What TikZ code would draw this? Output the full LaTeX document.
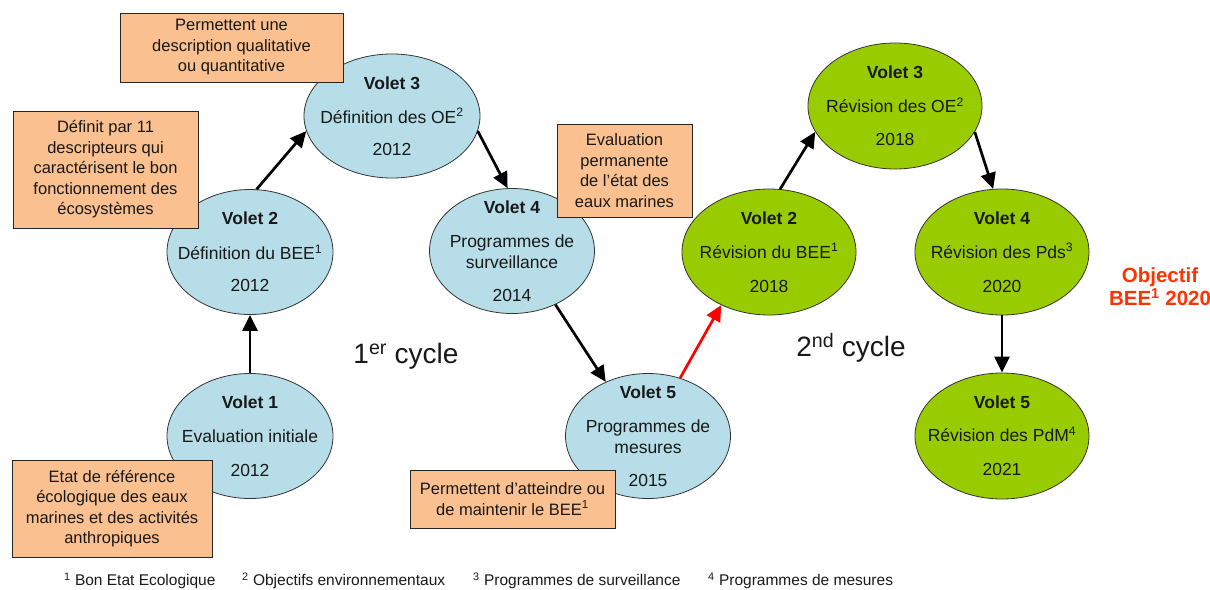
\documentclass[tikz,border=0pt]{standalone}
\usepackage{fontspec}
\setmainfont{Liberation Sans}
\usetikzlibrary{arrows.meta,shapes.geometric}
\definecolor{bluefill}{HTML}{B7DEE8}
\definecolor{greenfill}{HTML}{99CC00}
\definecolor{boxfill}{HTML}{FAC090}
\definecolor{objred}{HTML}{FF3300}
\begin{document}
\begin{tikzpicture}[x=1pt,y=-1pt,
  ell/.style={ellipse, draw=black!80, line width=0.8pt, inner sep=0pt},
  blueell/.style={ell, fill=bluefill, minimum width=166pt, minimum height=125pt},
  greenell/.style={ell, fill=greenfill, minimum width=174pt, minimum height=126pt},
  etxt/.style={align=center, font=\fontsize{17.5}{21}\selectfont, text=black!90, inner sep=0pt},
  note/.style={draw=black!85, line width=0.8pt, fill=boxfill, align=center,
    font=\fontsize{16.5}{20.5}\selectfont, text=black!90, inner sep=0pt},
  arr/.style={line width=2.7pt, -{Triangle[length=16pt,width=15pt]}},
  redarr/.style={arr, draw=red, fill=red},
  foot/.style={anchor=west, font=\fontsize{15.5}{18}\selectfont, text=black!90, inner sep=0pt}]
\useasboundingbox (0,0) rectangle (1210,589);

% first cycle ellipses
\node[blueell] (v1) at (250,436) {};
\node[blueell] (v2) at (250,252) {};
\node[blueell, minimum width=176pt, minimum height=124pt] (v3) at (392,116) {};
\node[blueell, minimum width=165pt] (v4) at (512,251) {};
\node[blueell, minimum width=165pt] (v5) at (648,436) {};

\node[etxt] (v1t) at (v1.center) {\textbf{Volet 1}\\[13pt]Evaluation initiale\\[13pt]2012};
\node[etxt] (v2t) at (v2.center) {\textbf{Volet 2}\\[14pt]Définition du BEE\textsuperscript{1}\\[11pt]2012};
\node[etxt] (v3t) at (v3.center) {\textbf{Volet 3}\\[13pt]Définition des OE\textsuperscript{2}\\[11pt]2012};
\node[etxt] (v4t) at (v4.center) {\textbf{Volet 4}\\[13pt]Programmes de\\surveillance\\[12pt]2014};
\node[etxt] (v5t) at (v5.center) {\textbf{Volet 5}\\[13pt]Programmes de\\mesures\\[12pt]2015};

% second cycle ellipses
\node[greenell] (g2) at (769,252) {};
\node[greenell] (g3) at (895,106) {};
\node[greenell] (g4) at (1002,252) {};
\node[greenell] (g5) at (1002,436) {};

\node[etxt] (g2t) at (g2.center) {\textbf{Volet 2}\\[13pt]Révision du BEE\textsuperscript{1}\\[13pt]2018};
\node[etxt] (g3t) at (g3.center) {\textbf{Volet 3}\\[13pt]Révision des OE\textsuperscript{2}\\[12pt]2018};
\node[etxt] (g4t) at (g4.center) {\textbf{Volet 4}\\[13pt]Révision des Pds\textsuperscript{3}\\[13pt]2020};
\node[etxt] (g5t) at (g5.center) {\textbf{Volet 5}\\[12pt]Révision des PdM\textsuperscript{4}\\[13pt]2021};

% notes
\node[note, minimum width=223pt, minimum height=69pt] (na) at (231.5,47.5)
  {Permettent une\\description qualitative\\ou quantitative};
\node[note, minimum width=185pt, minimum height=117pt] (nb) at (105.5,169.5)
  {Définit par 11\\descripteurs qui\\caractérisent le bon\\fonctionnement des\\écosystèmes};
\node[note, minimum width=135pt, minimum height=93pt] (nc) at (624.5,170.5)
  {Evaluation\\permanente\\de l’état des\\eaux marines};
\node[note, minimum width=200pt, minimum height=97pt] (nd) at (112,508.5)
  {Etat de référence\\écologique des eaux\\marines et des activités\\anthropiques};
\node[note, minimum width=205pt, minimum height=58pt] (ne) at (512.5,499)
  {Permettent d’atteindre ou\\de maintenir le BEE\textsuperscript{1}};

% arrows
\draw[arr] (v1.north) -- (v2.south);
\draw[arr] (v2.84) -- (v3.190);
\draw[arr] (v3.350) -- (v4.94);
\draw[arr] (v4.309) -- (v5.128);
\draw[redarr] (v5.61) -- (g2.228);
\draw[arr] (g2.80) -- (g3.198);
\draw[arr] (g3.342) -- (g4.98);
\draw[arr] (g4.south) -- (g5.north);

% labels
\node[font=\fontsize{28}{34}\selectfont, text=black!90] (c1) at (406,356) {1\textsuperscript{er} cycle};
\node[font=\fontsize{28}{34}\selectfont, text=black!90] (c2) at (851,348) {2\textsuperscript{nd} cycle};
\node[font=\fontsize{20.5}{23}\selectfont\bfseries, text=objred, align=center] (obj) at (1160,287)
  {Objectif\\BEE\textsuperscript{1} 2020};

% footnotes
\node[foot] (f1) at (64,581) {\textsuperscript{1} Bon Etat Ecologique};
\node[foot] (f2) at (242,581) {\textsuperscript{2} Objectifs environnementaux};
\node[foot] (f3) at (473,581) {\textsuperscript{3} Programmes de surveillance};
\node[foot] (f4) at (708,581) {\textsuperscript{4} Programmes de mesures};
\end{tikzpicture}
\end{document}
